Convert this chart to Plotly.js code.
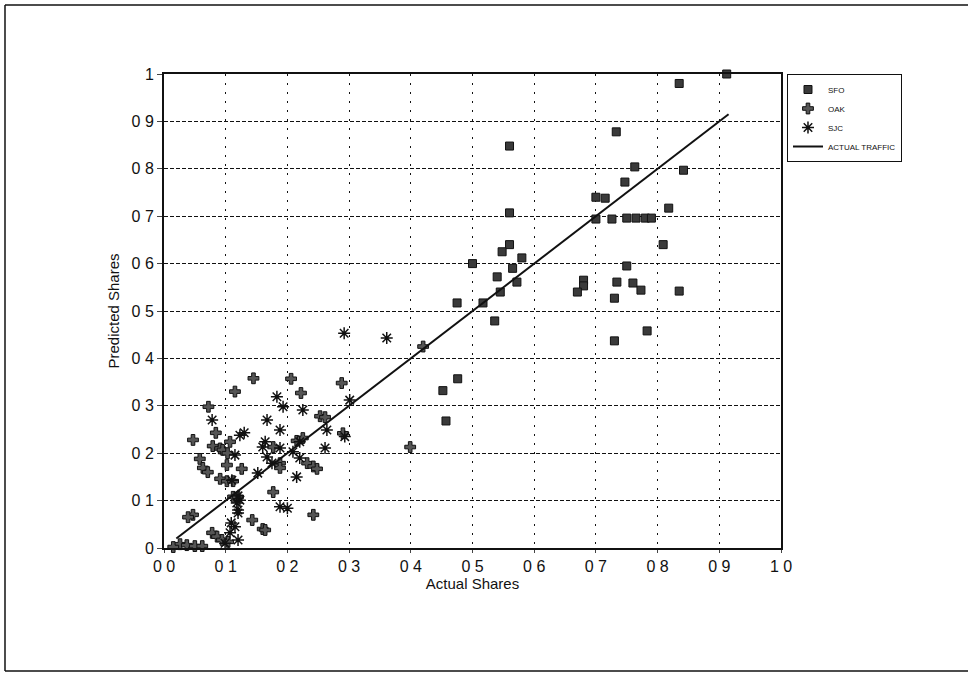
<!DOCTYPE html>
<html>
<head>
<meta charset="utf-8">
<script src="https://cdn.plot.ly/plotly-3.0.1.min.js"></script>
<style>html,body{margin:0;padding:0;background:#fff;}#chart{width:968px;height:674px;}</style>
</head>
<body>
<div id="chart"></div>
<script>
// SFO series
const sfoX = [0.912,0.835,0.733,0.56,0.842,0.763,0.747,0.70,0.715,0.818,0.56,0.70,0.726,0.75,0.765,0.78,0.79,0.809,0.56,0.548,0.58,0.50,0.565,0.54,0.572,0.545,0.517,0.475,0.536,0.75,0.68,0.68,0.67,0.734,0.76,0.773,0.73,0.835,0.783,0.73,0.476,0.452,0.457];
const sfoY = [1.0,0.98,0.878,0.848,0.797,0.804,0.772,0.74,0.738,0.717,0.707,0.694,0.694,0.696,0.696,0.696,0.696,0.64,0.64,0.625,0.612,0.60,0.59,0.572,0.561,0.54,0.517,0.517,0.479,0.595,0.565,0.553,0.54,0.561,0.559,0.544,0.527,0.542,0.458,0.437,0.357,0.332,0.268];
// OAK series
const oakX = [0.42,0.115,0.145,0.206,0.222,0.288,0.399,0.072,0.253,0.261,0.084,0.047,0.107,0.29,0.215,0.225,0.079,0.091,0.177,0.095,0.103,0.058,0.232,0.242,0.248,0.188,0.188,0.102,0.126,0.063,0.071,0.091,0.102,0.112,0.112,0.12,0.177,0.242,0.047,0.039,0.143,0.16,0.078,0.086,0.094,0.104,0.026,0.037,0.05,0.062,0.015,0.164];
const oakY = [0.425,0.33,0.358,0.357,0.327,0.348,0.213,0.298,0.278,0.276,0.243,0.228,0.224,0.242,0.226,0.232,0.215,0.21,0.213,0.207,0.2,0.188,0.179,0.172,0.167,0.179,0.169,0.175,0.167,0.169,0.16,0.146,0.141,0.141,0.108,0.108,0.118,0.07,0.07,0.065,0.059,0.04,0.032,0.024,0.017,0.013,0.008,0.006,0.004,0.004,0.002,0.038];
// SJC series
const sjcX = [0.292,0.361,0.183,0.301,0.078,0.193,0.225,0.167,0.188,0.123,0.13,0.164,0.264,0.293,0.22,0.261,0.16,0.115,0.167,0.188,0.209,0.22,0.175,0.152,0.215,0.123,0.12,0.118,0.12,0.188,0.2,0.12,0.109,0.107,0.12,0.099,0.115,0.11];
const sjcY = [0.453,0.443,0.319,0.312,0.27,0.298,0.291,0.27,0.249,0.238,0.243,0.224,0.249,0.235,0.224,0.211,0.213,0.196,0.192,0.211,0.203,0.19,0.179,0.158,0.15,0.101,0.11,0.095,0.074,0.087,0.084,0.08,0.053,0.032,0.017,0.01,0.045,0.143];
// Actual traffic line (y = x)
const lineX = [0.02, 0.915];
const lineY = [0.02, 0.915];
// Tick labels
const tickVals = [0,0.1,0.2,0.3,0.4,0.5,0.6,0.7,0.8,0.9,1.0];
const xTickText = ["0 0","0 1","0 2","0 3","0 4","0 5","0 6","0 7","0 8","0 9","1 0"];
const yTickText = ["0","0 1","0 2","0 3","0 4","0 5","0 6","0 7","0 8","0 9","1"];

const fontFam = '"Liberation Sans", Arial, sans-serif';

const traces = [
  {x: sfoX, y: sfoY, name: 'SFO', type: 'scatter', mode: 'markers', cliponaxis: false,
   marker: {symbol: 'square', size: 8, color: '#3a3a3a', line: {color: '#111', width: 1}}},
  {x: oakX, y: oakY, name: 'OAK', type: 'scatter', mode: 'markers', cliponaxis: false,
   marker: {symbol: 'cross', size: 9, color: '#555', line: {color: '#111', width: 1}}},
  {x: sjcX, y: sjcY, name: 'SJC', type: 'scatter', mode: 'markers', cliponaxis: false,
   marker: {symbol: 'asterisk-open', size: 10, color: '#111', line: {color: '#111', width: 1.5}}},
  {x: lineX, y: lineY, name: 'ACTUAL TRAFFIC', type: 'scatter', mode: 'lines',
   line: {color: '#111', width: 2}}
];

const frameLine = {color: '#111', width: 1.5};
const layout = {
  width: 968, height: 674,
  margin: {l: 164, r: 187, t: 74, b: 126},
  paper_bgcolor: '#fff', plot_bgcolor: '#fff',
  font: {family: fontFam, color: '#111', size: 14},
  showlegend: true,
  legend: {x: 1.0097, y: 1, xanchor: 'left', yanchor: 'top', bordercolor: '#111', borderwidth: 1,
           font: {size: 8, family: fontFam}, bgcolor: '#fff', tracegroupgap: 0, itemwidth: 30},
  xaxis: {range: [0, 1], tickvals: tickVals, ticktext: xTickText, ticks: 'outside', ticklen: 3,
          tickfont: {size: 16}, showline: true, linecolor: '#111', linewidth: 2, mirror: true,
          showgrid: true, gridcolor: '#111', gridwidth: 1, griddash: '2px,7px', zeroline: false,
          title: {text: 'Actual Shares', font: {size: 15}, standoff: 4}},
  yaxis: {range: [0, 1], tickvals: tickVals, ticktext: yTickText, ticks: 'outside', ticklen: 5,
          tickfont: {size: 16}, showline: true, linecolor: '#111', linewidth: 2, mirror: true,
          showgrid: true, gridcolor: '#111', gridwidth: 1, griddash: '4px,2px', zeroline: false,
          title: {text: 'Predicted Shares', font: {size: 15}, standoff: 8}},
  shapes: [
    {type: 'line', xref: 'paper', yref: 'paper', x0: -0.2577, x1: 1.32, y0: 1.1456, y1: 1.1456, line: frameLine, layer: 'below'},
    {type: 'line', xref: 'paper', yref: 'paper', x0: -0.2577, x1: -0.2577, y0: -0.2595, y1: 1.1456, line: frameLine, layer: 'below'},
    {type: 'line', xref: 'paper', yref: 'paper', x0: -0.2577, x1: 1.32, y0: -0.2595, y1: -0.2595, line: frameLine, layer: 'below'}
  ]
};

Plotly.newPlot('chart', traces, layout, {displayModeBar: false, staticPlot: true});
</script>
</body>
</html>
